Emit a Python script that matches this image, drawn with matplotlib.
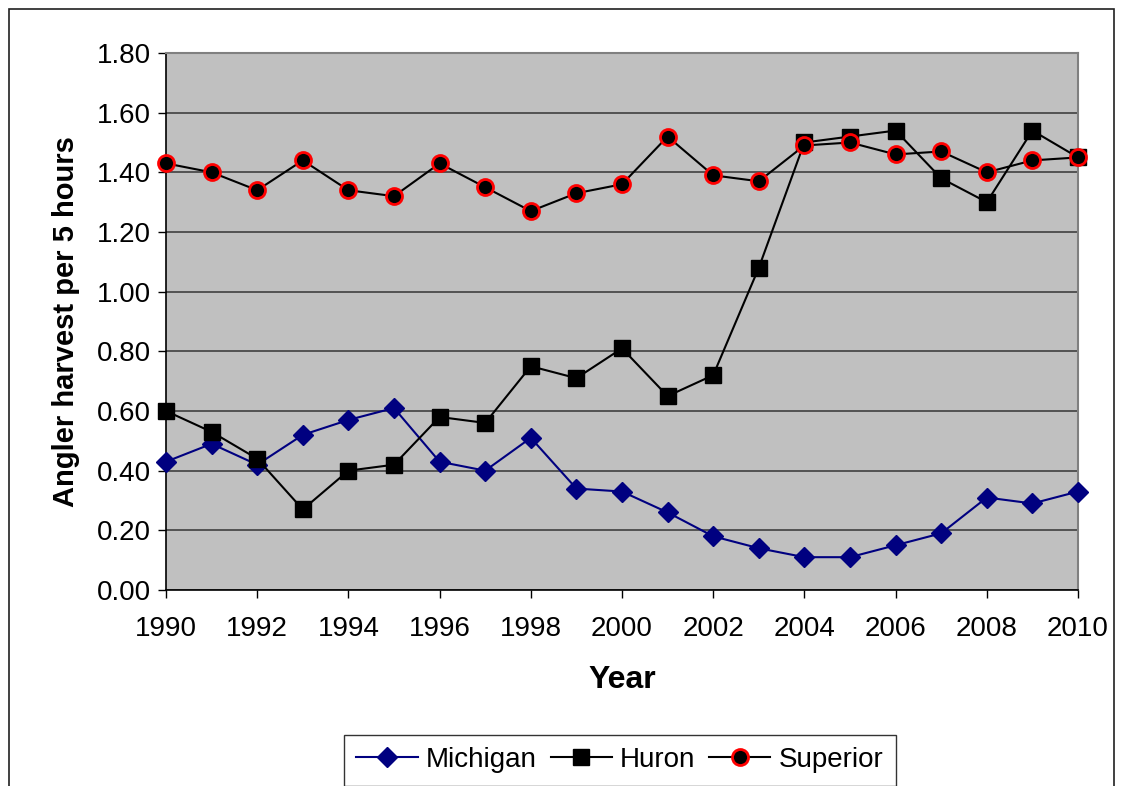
import matplotlib.pyplot as plt
from matplotlib.patches import Rectangle

plt.rcParams['font.family'] = ['Liberation Sans', 'DejaVu Sans']

years = list(range(1990, 2011))
michigan = [0.43, 0.49, 0.42, 0.52, 0.57, 0.61, 0.43, 0.40, 0.51, 0.34, 0.33,
            0.26, 0.18, 0.14, 0.11, 0.11, 0.15, 0.19, 0.31, 0.29, 0.33]
huron = [0.60, 0.53, 0.44, 0.27, 0.40, 0.42, 0.58, 0.56, 0.75, 0.71, 0.81,
         0.65, 0.72, 1.08, 1.50, 1.52, 1.54, 1.38, 1.30, 1.54, 1.45]
superior = [1.43, 1.40, 1.34, 1.44, 1.34, 1.32, 1.43, 1.35, 1.27, 1.33, 1.36,
            1.52, 1.39, 1.37, 1.49, 1.50, 1.46, 1.47, 1.40, 1.44, 1.45]
yticks = [0.0, 0.2, 0.4, 0.6, 0.8, 1.0, 1.2, 1.4, 1.6, 1.8]
xticks = list(range(1990, 2011, 2))

W, H = 1122, 786
fig = plt.figure(figsize=(W / 100, H / 100), dpi=100)
ax = fig.add_axes([166 / W, 1 - 590 / H, (1078 - 166) / W, (590 - 53) / H])
ax.set_facecolor('#c0c0c0')

ax.plot(years, michigan, color='#000080', lw=1.5, marker='D', ms=10.5,
        mfc='#000080', mec='#000080', label='Michigan', clip_on=False, zorder=3)
ax.plot(years, huron, color='black', lw=1.5, marker='s', ms=11.5,
        mfc='black', mec='black', label='Huron', clip_on=False, zorder=3)
ax.plot(years, superior, color='black', lw=1.5, marker='o', ms=11.5,
        mfc='black', mec='red', mew=2, label='Superior', clip_on=False, zorder=4)

ax.set_xlim(1990, 2010)
ax.set_ylim(0, 1.8)
ax.set_yticks(yticks)
ax.set_yticklabels([f'{v:.2f}' for v in yticks])
ax.set_xticks(xticks)
ax.tick_params(labelsize=20, direction='out', length=6, width=1)
ax.tick_params(axis='x', pad=13)
ax.tick_params(axis='y', pad=5)
ax.yaxis.grid(True, color='#404040', lw=1.2)
ax.set_axisbelow(True)
for s in ['top', 'right']:
    ax.spines[s].set_color('#808080')
    ax.spines[s].set_linewidth(1.5)
for s in ['left', 'bottom']:
    ax.spines[s].set_color('black')
    ax.spines[s].set_linewidth(1.2)

ax.set_xlabel('Year', fontsize=23, fontweight='bold', labelpad=16)
ax.set_ylabel('Angler harvest per 5 hours', fontsize=21, fontweight='bold', labelpad=12)

leg = fig.legend(loc='center', bbox_to_anchor=(620 / W, 1 - 760 / H), ncol=3,
                 fontsize=20, frameon=True, fancybox=False, edgecolor='black',
                 handlelength=2.2, handletextpad=0.3, columnspacing=0.5,
                 borderpad=0.45)
leg.get_frame().set_linewidth(1)

fig.patches.append(Rectangle((9 / W, -0.05), (1114 - 9) / W, 1 - 9 / H + 0.05,
                             transform=fig.transFigure, fill=False,
                             edgecolor='#202020', lw=1.2))

fig.savefig('out.png', dpi=100)
